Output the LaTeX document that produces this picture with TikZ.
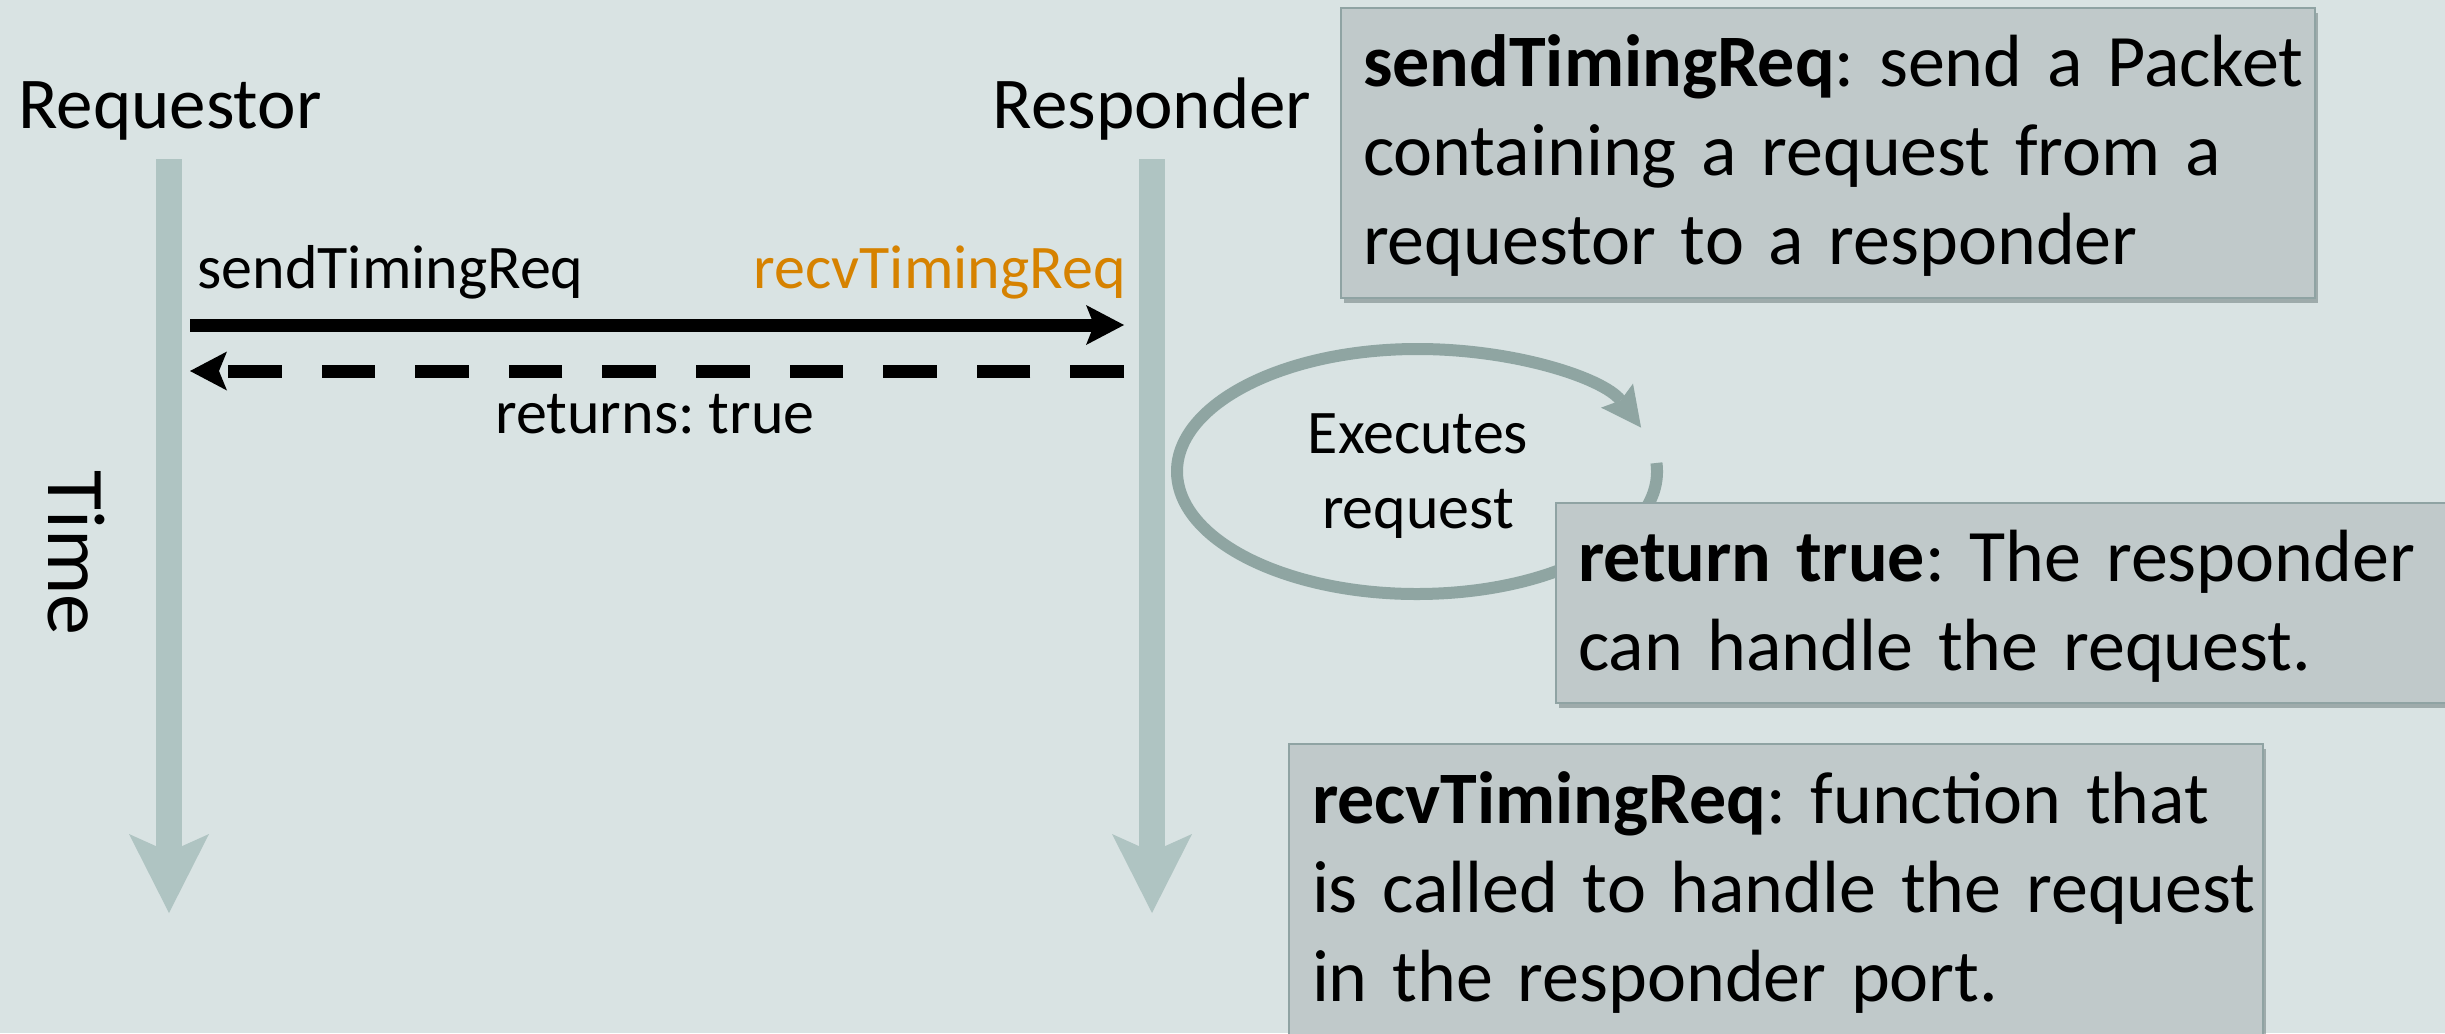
\documentclass[tikz,border=0pt]{standalone}
\usepackage{fontspec}
\setmainfont{Carlito}
\frenchspacing
\usetikzlibrary{arrows.meta,shadows}
\definecolor{bgc}{RGB}{217,227,227}
\definecolor{lifec}{RGB}{175,196,194}
\definecolor{loopcol}{RGB}{143,165,162}
\definecolor{boxc}{RGB}{192,201,202}
\definecolor{boxline}{RGB}{143,163,163}
\definecolor{orangec}{RGB}{214,130,0}
\definecolor{shadowc}{RGB}{120,135,135}
\begin{document}
\begin{tikzpicture}[x=0.5pt,y=-0.5pt,
  lifeline/.style={draw=lifec, line width=13pt,
    -{Stealth[length=39.5pt,width=40pt,inset=9pt,line width=0pt]}},
  callarrow/.style={draw=black, line width=6.5pt,
    -{Stealth[length=19pt,width=20pt,inset=4pt,line width=0pt]}},
  retarrow/.style={draw=black, line width=6.5pt, dash pattern=on 26.8pt off 20pt,
    -{Stealth[length=18.5pt,width=19.5pt,inset=4pt,line width=0pt]}},
  looparrow/.style={draw=loopcol, line width=6pt,
    -{Stealth[length=20pt,width=20pt,inset=3pt,line width=0pt]}},
  bigtext/.style={font=\fontsize{36.5pt}{44pt}\selectfont, inner sep=0pt},
  smalltext/.style={font=\fontsize{31pt}{37.5pt}\selectfont, inner sep=0pt},
  infobox/.style={draw=boxline, line width=1pt, fill=boxc, anchor=north west,
    inner xsep=11pt, inner ysep=0pt, align=left,
    font=\fontsize{37pt}{44.5pt}\selectfont,
    drop shadow={shadow xshift=1.5pt, shadow yshift=-2.5pt, fill=shadowc, opacity=0.6}}
]
\useasboundingbox (0,0) rectangle (2445,1033);
\fill[bgc] (0,0) rectangle (2445,1033);

% titles
\node[bigtext, anchor=base] (req) at (170,128) {Requestor};
\node[bigtext, anchor=base] (resp) at (1152,128) {Responder};
\node[font=\fontsize{41pt}{48pt}\selectfont, inner sep=0pt, rotate=-90, anchor=base west] (time) at (48,470) {Time};

% lifelines
\coordinate (reqtop) at (169,159);
\coordinate (reqbot) at (169,913);
\coordinate (resptop) at (1152,159);
\coordinate (respbot) at (1152,913);
\draw[lifeline] (reqtop) -- (reqbot);
\draw[lifeline] (resptop) -- (respbot);

% messages
\coordinate (sendfrom) at (190,325);
\coordinate (sendto) at (1124,325);
\coordinate (retfrom) at (1124,371);
\coordinate (retto) at (190,371);
\draw[callarrow] (sendfrom) -- (sendto);
\draw[retarrow] (retfrom) -- (retto);
\node[smalltext, anchor=base west] (sendlbl) at (197,288) {sendTimingReq};
\node[smalltext, anchor=base east, text=orangec] (recvlbl) at (1126,288) {recvTimingReq};
\node[smalltext, anchor=base] (retlbl) at (655,433) {returns: true};

% info box 1
\node[infobox, text width=465pt, text height=39pt, text depth=106pt] (box1) at (1340,7)
  {\mbox{\textbf{sendTimingReq}: send a Packet}\\\mbox{containing a request from a}\\\mbox{requestor to a responder}};

% execution loop
\coordinate (loopcenter) at (1417,471.5);
\draw[looparrow] ([shift={(-4:240 and 122.5)}]loopcenter) arc[start angle=-4, end angle=339, x radius=240, y radius=122.5];
\node[smalltext, align=center, anchor=base] (exec) at (1418,528) {Executes\\request};

% info box 2
\node[infobox, text width=430pt, text height=39pt, text depth=61pt] (box2) at (1555,502)
  {\mbox{\textbf{return true}: The responder}\\\mbox{can handle the request.}};

% info box 3
\node[infobox, inner xsep=11.5pt, text width=464pt, text height=39.5pt, text depth=119pt] (box3) at (1288,743)
  {\mbox{\textbf{recvTimingReq}: function that}\\\mbox{is called to handle the request}\\\mbox{in the responder port.}};
\end{tikzpicture}
\end{document}
